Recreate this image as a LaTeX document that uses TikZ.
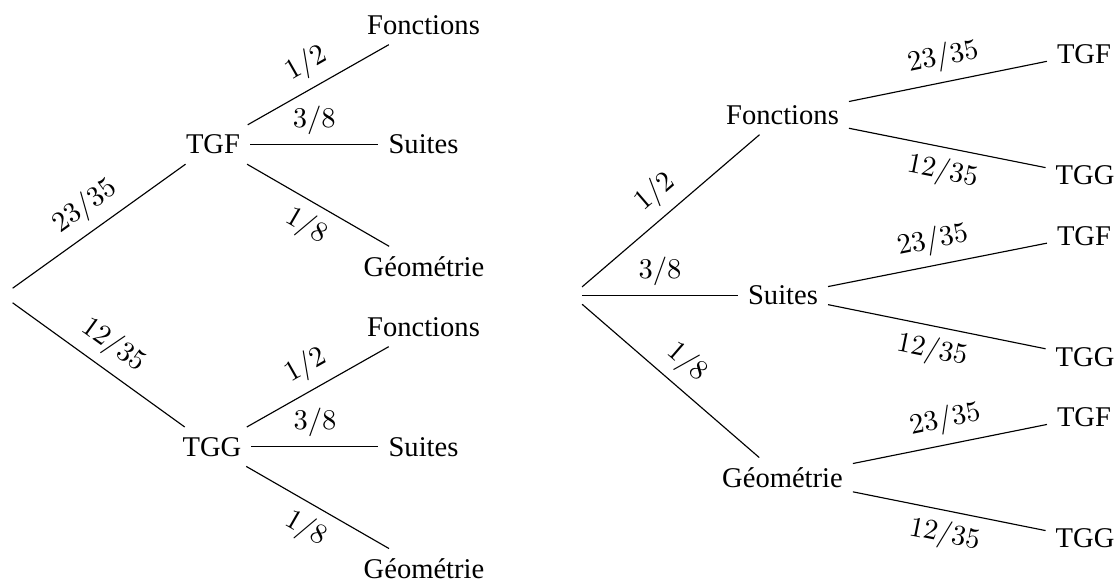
\documentclass[tikz,border=0pt]{standalone}
\usepackage{fontspec}
\setmainfont{Liberation Serif}
\begin{document}
\begin{tikzpicture}[x=0.35pt,y=-0.35pt,
  lblA/.style={midway,sloped,above},
  lblB/.style={midway,sloped,below},
  branch/.style={draw=black,line width=0.4pt}]
\useasboundingbox (0,0) rectangle (1118,581);
% ---------- left tree ----------
\node (rL) at (2.5,295.5) {};
\node (LTGF) at (213,144.5) {TGF};
\node (LTGG) at (212,446.7) {TGG};
\node (LF1) at (423.5,25) {Fonctions};
\node (LS1) at (423.5,144.5) {Suites};
\node (LG1) at (424,266.5) {Géométrie};
\node (LF2) at (423.5,327) {Fonctions};
\node (LS2) at (423.5,446.7) {Suites};
\node (LG2) at (424,568.7) {Géométrie};
\path[branch] (rL) -- node[lblA]{$23/35$} (LTGF);
\path[branch] (rL) -- node[lblA]{$12/35$} (LTGG);
\path[branch] (LTGF) -- node[lblA]{$1/2$} (LF1);
\path[branch] (LTGF) -- node[lblA]{$3/8$} (LS1);
\path[branch] (LTGF) -- node[lblB]{$1/8$} (LG1);
\path[branch] (LTGG) -- node[lblA]{$1/2$} (LF2);
\path[branch] (LTGG) -- node[lblA]{$3/8$} (LS2);
\path[branch] (LTGG) -- node[lblB]{$1/8$} (LG2);
% ---------- right tree ----------
\node (rR) at (572,295.5) {};
\node (RF) at (782.5,115) {Fonctions};
\node (RS) at (783,295.5) {Suites};
\node (RG) at (782.5,477.7) {Géométrie};
\node (RF1) at (1084,53.8) {TGF};
\node (RG1) at (1085,175.5) {TGG};
\node (RF2) at (1084,235.8) {TGF};
\node (RG2) at (1085,356.8) {TGG};
\node (RF3) at (1084,417) {TGF};
\node (RG3) at (1085,538.5) {TGG};
\path[branch] (rR) -- node[lblA]{$1/2$} (RF);
\path[branch] (rR) -- node[lblA]{$3/8$} (RS);
\path[branch] (rR) -- node[lblA]{$1/8$} (RG);
\path[branch] (RF) -- node[lblA]{$23/35$} (RF1);
\path[branch] (RF) -- node[lblB]{$12/35$} (RG1);
\path[branch] (RS) -- node[lblA]{$23/35$} (RF2);
\path[branch] (RS) -- node[lblB]{$12/35$} (RG2);
\path[branch] (RG) -- node[lblA]{$23/35$} (RF3);
\path[branch] (RG) -- node[lblB]{$12/35$} (RG3);
\end{tikzpicture}
\end{document}
